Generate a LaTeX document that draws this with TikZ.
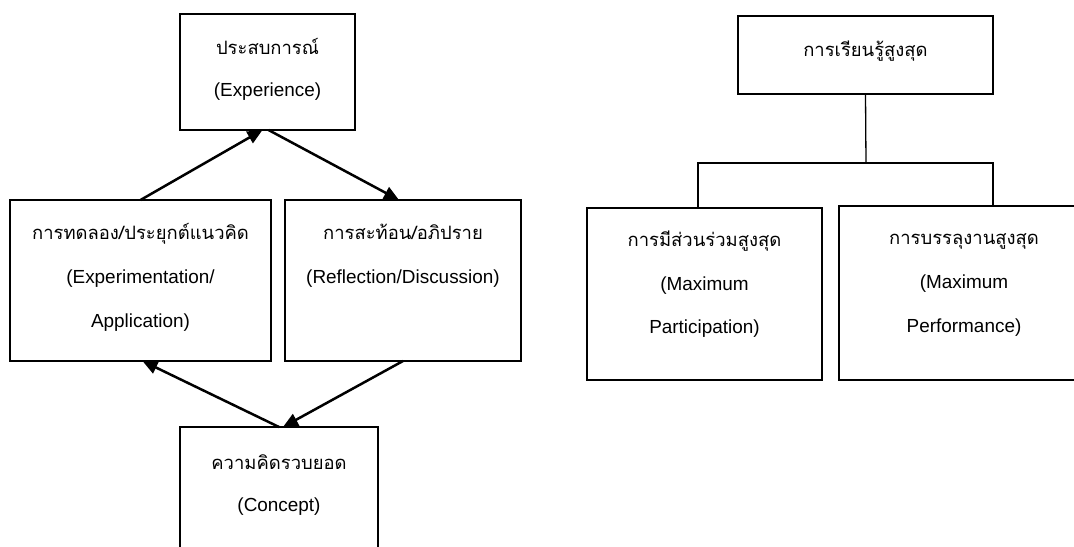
\documentclass[tikz,border=0pt]{standalone}
\usepackage{fontspec}
\setmainfont{Liberation Sans}
\newfontfamily\thaifont[Script=Thai]{Loma}
\usetikzlibrary{arrows.meta}
\begin{document}
\begin{tikzpicture}[x=1bp,y=-1bp,
  box/.style={draw,line width=2bp,inner sep=0pt,outer sep=0pt},
  lbl/.style={font=\fontsize{19}{23}\selectfont,inner sep=0pt,anchor=base},
  th/.style={font=\thaifont\fontsize{18.5}{23}\selectfont,inner sep=0pt,anchor=base},
  arr/.style={line width=2.5bp,-{Triangle[length=15bp,width=13bp]}},
  tree/.style={line width=1.3bp}]
\useasboundingbox (0,0) rectangle (1074,547);
\fill[white] (0,0) rectangle (1074,547);
\begin{scope}
\clip (0,0) rectangle (1074,547);
% left cycle boxes
\node[box,minimum width=175bp,minimum height=116bp] (E) at (267.5,72) {};
\node[box,minimum width=261bp,minimum height=161bp] (L) at (140.5,280.5) {};
\node[box,minimum width=236bp,minimum height=161bp] (R) at (403,280.5) {};
\node[box,minimum width=198bp,minimum height=140bp] (C) at (279,497) {};
% right tree boxes
\node[box,minimum width=255bp,minimum height=78bp] (T) at (865.5,55) {};
\node[box,minimum width=235bp,minimum height=172bp] (P) at (704.5,294) {};
\node[box,minimum width=250bp,minimum height=174bp] (M) at (964,293) {};
\end{scope}
% texts
\node[th]  (e1) at (267.5,55) {ประสบการณ์};
\node[lbl] (e2) at (267.5,97) {(Experience)};
\node[th]  (l1) at (140.5,240) {การทดลอง/ประยุกต์แนวคิด};
\node[lbl] (l2) at (140.5,284) {(Experimentation/};
\node[lbl] (l3) at (140.5,328) {Application)};
\node[th]  (r1) at (403,240) {การสะท้อน/อภิปราย};
\node[lbl] (r2) at (403,284) {(Reflection/Discussion)};
\node[th]  (c1) at (279,469) {ความคิดรวบยอด};
\node[lbl] (c2) at (279,511) {(Concept)};
\node[th]  (t1) at (865.5,57) {การเรียนรู้สูงสุด};
\node[th]  (p1) at (704.5,247) {การมีส่วนร่วมสูงสุด};
\node[lbl] (p2) at (704.5,291) {(Maximum};
\node[lbl] (p3) at (704.5,334) {Participation)};
\node[th]  (m1) at (964,245) {การบรรลุงานสูงสุด};
\node[lbl] (m2) at (964,289) {(Maximum};
\node[lbl] (m3) at (964,333) {Performance)};
% cycle arrows
\draw[arr] (L.north) -- ([xshift=-5bp]E.south);
\draw[arr] ([xshift=1bp]E.south) -- ([xshift=-4bp]R.north);
\draw[arr] (C.north) -- ([xshift=2bp]L.south);
\draw[arr] (R.south) -- ([xshift=4bp]C.north);
% tree connectors
\coordinate (j) at (866,163);
\draw[tree] (T.south) -- (j);
\draw[tree] (P.north -| 698,0) |- (j) -| (M.north -| 993,0);
\end{tikzpicture}
\end{document}
